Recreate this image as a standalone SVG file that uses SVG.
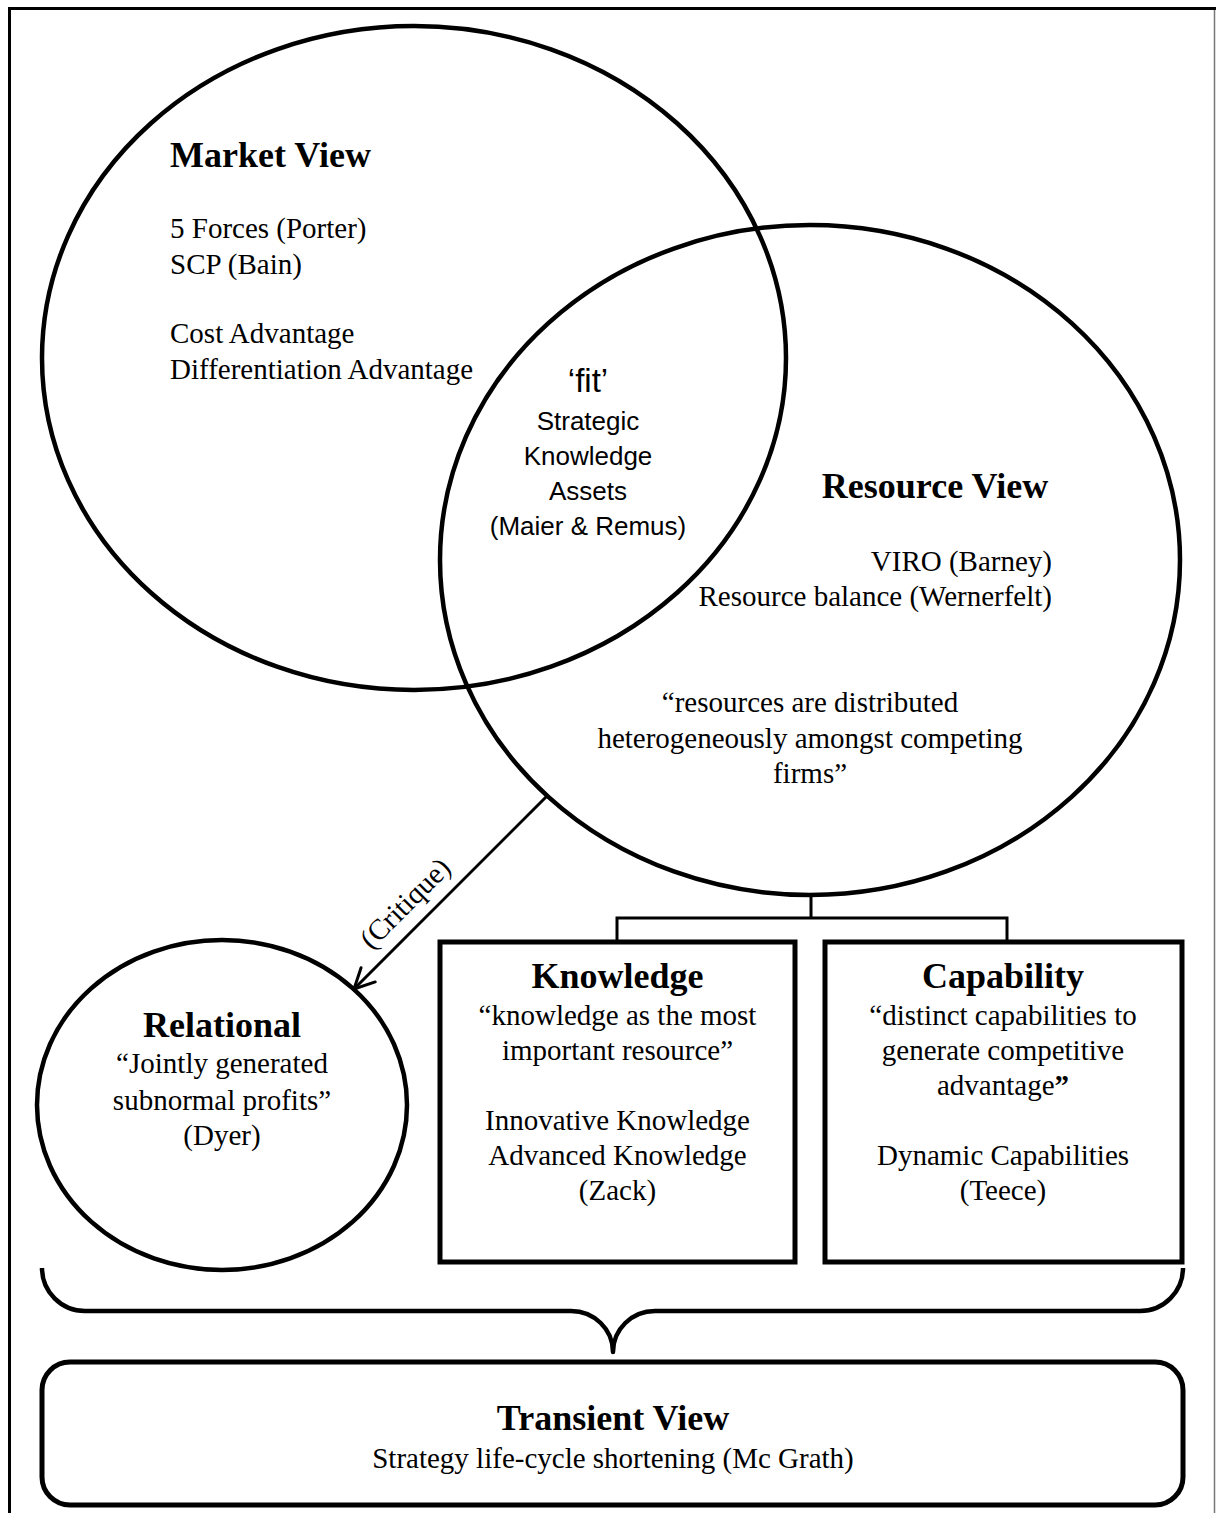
<svg xmlns="http://www.w3.org/2000/svg" width="1216" height="1513" viewBox="0 0 1216 1513">
  <style>
    .serif { font-family: "Liberation Serif", "Times New Roman", serif; font-size: 29px; fill: #000; }
    .head { font-family: "Liberation Serif", "Times New Roman", serif; font-size: 36px; font-weight: bold; fill: #000; }
    .sans { font-family: "Liberation Sans", Arial, sans-serif; font-size: 26px; fill: #000; }
    .mid { text-anchor: middle; }
    .end { text-anchor: end; }
    .shape { fill: none; stroke: #000; stroke-width: 4.5; }
    .box { fill: none; stroke: #000; stroke-width: 5; }
    .link { fill: none; stroke: #000; stroke-width: 3; }
  </style>
  <defs>
    <marker id="openArrow" viewBox="0 0 24 24" refX="22" refY="12" markerWidth="24" markerHeight="24" markerUnits="userSpaceOnUse" orient="auto">
      <path d="M2,2 L22,12 L2,22" fill="none" stroke="#000" stroke-width="3" stroke-linecap="round" stroke-linejoin="round"/>
    </marker>
  </defs>

  <rect width="1216" height="1513" fill="#fff"/>

  <!-- page frame -->
  <g id="frame">
    <line x1="8" y1="8.5" x2="1216" y2="8.5" stroke="#000" stroke-width="3"/>
    <line x1="9.5" y1="7" x2="9.5" y2="1513" stroke="#000" stroke-width="3"/>
    <line x1="1214.5" y1="10" x2="1214.5" y2="1513" stroke="#777" stroke-width="1.5"/>
  </g>

  <!-- Market view circle -->
  <g id="market-view">
    <ellipse class="shape" cx="414" cy="358" rx="372" ry="332"/>
    <text class="head" x="170" y="167">Market View</text>
    <text class="serif" x="170" y="238">5 Forces (Porter)</text>
    <text class="serif" x="170" y="274">SCP (Bain)</text>
    <text class="serif" x="170" y="343">Cost Advantage</text>
    <text class="serif" x="170" y="379">Differentiation Advantage</text>
  </g>

  <!-- Resource view circle -->
  <g id="resource-view">
    <ellipse class="shape" cx="810" cy="560" rx="370" ry="335"/>
    <text class="head mid" x="935" y="498">Resource View</text>
    <text class="serif end" x="1052" y="571">VIRO (Barney)</text>
    <text class="serif end" x="1052" y="606">Resource balance (Wernerfelt)</text>
    <text class="serif mid" x="810" y="712">“resources are distributed</text>
    <text class="serif mid" x="810" y="748">heterogeneously amongst competing</text>
    <text class="serif mid" x="810" y="783">firms”</text>
  </g>

  <!-- overlap of the two views -->
  <g id="fit">
    <text class="sans mid" x="588" y="392" style="font-size:33px">‘fit’</text>
    <text class="sans mid" x="588" y="430">Strategic</text>
    <text class="sans mid" x="588" y="465">Knowledge</text>
    <text class="sans mid" x="588" y="500">Assets</text>
    <text class="sans mid" x="588" y="535">(Maier &amp; Remus)</text>
  </g>

  <!-- Relational circle -->
  <g id="relational">
    <ellipse class="shape" cx="222" cy="1105" rx="185" ry="165"/>
    <text class="head mid" x="222" y="1037">Relational</text>
    <text class="serif mid" x="222" y="1073">“Jointly generated</text>
    <text class="serif mid" x="222" y="1110">subnormal profits”</text>
    <text class="serif mid" x="222" y="1145">(Dyer)</text>
  </g>

  <!-- Knowledge box -->
  <g id="knowledge">
    <rect class="box" x="440" y="942" width="355" height="320"/>
    <text class="head mid" x="617.5" y="988">Knowledge</text>
    <text class="serif mid" x="617.5" y="1025">“knowledge as the most</text>
    <text class="serif mid" x="617.5" y="1060">important resource”</text>
    <text class="serif mid" x="617.5" y="1130">Innovative Knowledge</text>
    <text class="serif mid" x="617.5" y="1165">Advanced Knowledge</text>
    <text class="serif mid" x="617.5" y="1200">(Zack)</text>
  </g>

  <!-- Capability box -->
  <g id="capability">
    <rect class="box" x="825" y="942" width="357" height="320"/>
    <text class="head mid" x="1003" y="988">Capability</text>
    <text class="serif mid" x="1003" y="1025">“distinct capabilities to</text>
    <text class="serif mid" x="1003" y="1060">generate competitive</text>
    <text class="serif mid" x="1003" y="1095">advantage<tspan font-weight="bold">”</tspan></text>
    <text class="serif mid" x="1003" y="1165">Dynamic Capabilities</text>
    <text class="serif mid" x="1003" y="1200">(Teece)</text>
  </g>

  <!-- Transient view box -->
  <g id="transient-view">
    <rect class="box" x="42" y="1362" width="1141" height="143" rx="28" ry="28"/>
    <text class="head mid" x="613" y="1430">Transient View</text>
    <text class="serif mid" x="613" y="1468">Strategy life-cycle shortening (Mc Grath)</text>
  </g>

  <!-- connectors -->
  <g id="connectors">
    <!-- resource view branches into knowledge and capability -->
    <path class="link" d="M811,893 V918 M617,942 V918 H1007 V942"/>
    <!-- critique arrow -->
    <line class="link" x1="547" y1="796" x2="354" y2="989" marker-end="url(#openArrow)"/>
    <text class="serif mid" x="0" y="0" transform="translate(412,910) rotate(-45)">(Critique)</text>
    <!-- brace gathering the three views -->
    <path d="M42,1268 A43,43 0 0 0 85,1311 H571 A42,41 0 0 1 613,1352 A42,41 0 0 1 655,1311 H1140 A43,43 0 0 0 1183,1268" fill="none" stroke="#000" stroke-width="4.5" stroke-linejoin="round"/>
  </g>
</svg>
